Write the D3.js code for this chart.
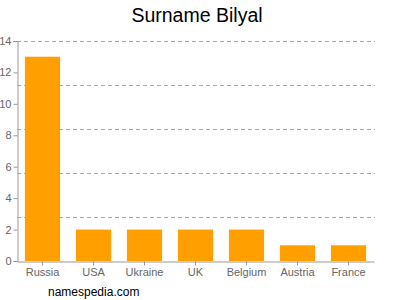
<!DOCTYPE html>
<html lang="en">
<head>
  <meta charset="UTF-8" />
  <title>Surname Bilyal</title>
  <script src="https://d3js.org/d3.v7.min.js"></script>
  <style>
    body { margin: 0; background: #fff; }
    text { font-family: "Liberation Sans", Arial, sans-serif; }
  </style>
</head>
<body>
  <svg id="chart" width="400" height="300"></svg>
  <script>
    // data
    const countries = ["Russia", "USA", "Ukraine", "UK", "Belgium", "Austria", "France"];
    const counts = [13, 2, 2, 2, 2, 1, 1];
    const yTicks = [0, 2, 4, 6, 8, 10, 12, 14];
    const gridValues = [2.8, 5.6, 8.4, 11.2, 14];

    const svg = d3.select("#chart");
    const plotLeft = 17, plotRight = 374, plotTop = 41, plotBottom = 261;

    const x = d3.scaleBand().domain(countries).range([plotLeft, plotRight]).paddingInner(0.31).paddingOuter(0.155);
    const y = d3.scaleLinear().domain([0, 14]).range([plotBottom, plotTop]);

    // dashed grid
    svg.append("g")
      .selectAll("line")
      .data(gridValues)
      .enter()
      .append("line")
      .attr("x1", plotLeft).attr("x2", plotRight + 1)
      .attr("y1", d => Math.round(y(d)) + 0.5)
      .attr("y2", d => Math.round(y(d)) + 0.5)
      .attr("stroke", "#aaa")
      .attr("stroke-dasharray", "4,3");

    // bars
    svg.append("g")
      .selectAll("rect")
      .data(countries)
      .enter()
      .append("rect")
      .attr("x", d => x(d))
      .attr("width", x.bandwidth())
      .attr("y", (d, i) => y(counts[i]))
      .attr("height", (d, i) => plotBottom - y(counts[i]))
      .attr("fill", "#ffa000");

    // y axis
    const yAxis = svg.append("g")
      .attr("transform", `translate(${plotLeft + 0.5},0)`)
      .call(d3.axisLeft(y).tickValues(yTicks).tickSize(4).tickPadding(2));
    yAxis.select(".domain").attr("stroke", "#999");
    yAxis.selectAll(".tick line").attr("stroke", "#999");
    yAxis.selectAll("text").attr("fill", "#666").style("font-size", "11px");

    // x axis
    const xAxis = svg.append("g")
      .attr("transform", `translate(0,${plotBottom + 0.5})`)
      .call(d3.axisBottom(x).tickSize(4).tickSizeOuter(0).tickPadding(3));
    xAxis.select(".domain").attr("stroke", "#999");
    xAxis.selectAll(".tick line").attr("stroke", "#999");
    xAxis.selectAll("text").attr("fill", "#666").style("font-size", "11px");

    // title and footer
    svg.append("text")
      .attr("x", 197).attr("y", 22)
      .attr("text-anchor", "middle")
      .style("font-size", "19.5px")
      .attr("fill", "#000")
      .text("Surname Bilyal");

    svg.append("text")
      .attr("x", 48).attr("y", 296)
      .style("font-size", "12px")
      .attr("fill", "#000")
      .text("namespedia.com");
  </script>
</body>
</html>
